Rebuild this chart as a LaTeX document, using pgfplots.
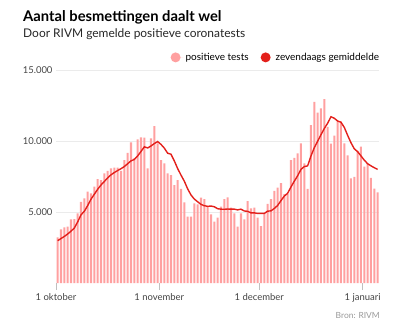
\documentclass[border=0pt]{standalone}
\usepackage{pgfplots}
\pgfplotsset{compat=1.18}
\usepackage{pgfplotstable}
\usepackage{fontspec}
\setmainfont{Lato}
\definecolor{barpink}{HTML}{FFA0A0}
\definecolor{linered}{HTML}{E3201B}
\definecolor{tickgray}{HTML}{444444}

\pgfplotstableread{
x y
0.5 3220
1.5 3780
2.5 3920
3.5 3970
4.5 4480
5.5 4500
6.5 4900
7.5 5720
8.5 5960
9.5 6430
10.5 6310
11.5 6780
12.5 7320
13.5 7250
14.5 7720
15.5 7900
16.5 8070
17.5 8120
18.5 8120
19.5 7900
20.5 8660
21.5 9170
22.5 9900
23.5 8800
24.5 10110
25.5 10260
26.5 10240
27.5 8070
28.5 10190
29.5 11050
30.5 9830
31.5 8660
32.5 8430
33.5 7720
34.5 7600
35.5 6900
36.5 7250
37.5 6620
38.5 5680
39.5 4670
40.5 4670
41.5 5610
42.5 5540
43.5 6010
44.5 5910
45.5 5370
46.5 4840
47.5 4320
48.5 4600
49.5 5370
50.5 5910
51.5 6030
52.5 5300
53.5 4900
54.5 3970
55.5 4900
56.5 4480
57.5 5770
58.5 5260
59.5 5300
60.5 4600
61.5 4010
62.5 4900
63.5 5580
64.5 5910
65.5 6480
66.5 6710
67.5 7040
68.5 6250
69.5 6250
70.5 8660
71.5 8820
72.5 9130
73.5 9830
74.5 8430
75.5 6620
76.5 11120
77.5 12760
78.5 12000
79.5 12300
80.5 12950
81.5 11000
82.5 9810
83.5 10380
84.5 11400
85.5 11380
86.5 9830
87.5 8980
88.5 7370
89.5 7480
90.5 9300
91.5 9600
92.5 8190
93.5 8400
94.5 7400
95.5 6650
96.5 6380
}\daily

\pgfplotstableread{
x y
0.5 2980
1.5 3130
2.5 3280
3.5 3450
4.5 3650
5.5 3870
6.5 4300
7.5 4800
8.5 5050
9.5 5450
10.5 5900
11.5 6250
12.5 6600
13.5 6900
14.5 7150
15.5 7400
16.5 7620
17.5 7780
18.5 7920
19.5 8050
20.5 8200
21.5 8400
22.5 8600
23.5 8700
24.5 8950
25.5 9260
26.5 9590
27.5 9510
28.5 9650
29.5 9820
30.5 9960
31.5 9760
32.5 9500
33.5 9140
34.5 9070
35.5 8600
36.5 8060
37.5 7600
38.5 7170
39.5 6630
40.5 6200
41.5 5910
42.5 5720
43.5 5540
44.5 5440
45.5 5400
46.5 5420
47.5 5370
48.5 5230
49.5 5200
50.5 5190
51.5 5210
52.5 5200
53.5 5200
54.5 5150
55.5 5200
56.5 5070
57.5 5050
58.5 4940
59.5 4940
60.5 4900
61.5 4900
62.5 4900
63.5 5060
64.5 5080
65.5 5250
66.5 5460
67.5 5800
68.5 6120
69.5 6320
70.5 6760
71.5 7170
72.5 7550
73.5 8000
74.5 8200
75.5 8250
76.5 8940
77.5 9530
78.5 9980
79.5 10440
80.5 10880
81.5 11250
82.5 11710
83.5 11600
84.5 11410
85.5 11320
86.5 10960
87.5 10400
88.5 9880
89.5 9450
90.5 9250
91.5 8950
92.5 8650
93.5 8400
94.5 8250
95.5 8120
96.5 8000
}\avg

\begin{document}
\begin{tikzpicture}[x=1bp,y=1bp]
\path[use as bounding box] (0,0) rectangle (400,330);
\node[anchor=base west, inner sep=0pt, font=\fontsize{14.8}{16}\selectfont\bfseries] at (23,309) {Aantal besmettingen daalt wel};
\node[anchor=base west, inner sep=0pt, font=\fontsize{12}{14}\selectfont, text=black!85] at (23,293) {Door RIVM gemelde positieve coronatests};
\node[anchor=base east, inner sep=0pt, font=\fontsize{8.5}{10}\selectfont, text=black!40] at (380,12) {Bron: RIVM};
\begin{axis}[
  at={(56bp,47bp)}, anchor=south west, scale only axis,
  width=323.3bp, height=213bp,
  xmin=0, xmax=97, ymin=0, ymax=15000,
  scaled y ticks=false,
  axis line style={draw=none},
  xtick={0,31,61,92},
  xticklabels={1 oktober, 1 november, 1 december, 1 januari},
  ytick={5000,10000,15000},
  yticklabels={5.000,10.000,15.000},
  ymajorgrids, grid style={draw=black!8, line width=0.8bp},
  xtick style={draw=black!25, line width=0.8bp},
  ytick style={draw=none},
  tick align=outside, major tick length=7bp,
  xtick pos=bottom, ytick pos=left,
  ticklabel style={font=\fontsize{9.5}{11}\selectfont, text=tickgray},
  yticklabel style={xshift=7bp},
  legend columns=2,
  legend style={draw=none, fill=none, at={(axis description cs:1,1)}, anchor=south east,
    yshift=6bp, xshift=2bp, font=\fontsize{10}{12}\selectfont, inner sep=0pt,
    /tikz/every even column/.append style={column sep=10bp}},
]
\addplot[ybar, bar width=0.62, fill=barpink, draw=none,
  legend image code/.code={\fill[barpink] (0bp,0bp) circle (5bp); \path[draw=none] (-5bp,0bp) -- (8bp,0bp);}] table {\daily};
\addlegendentry{positieve tests}
\addplot[linered, line width=1.4bp, no marks,
  legend image code/.code={\fill[linered, draw=none] (0bp,0bp) circle (5bp); \path[draw=none] (-5bp,0bp) -- (8bp,0bp);}] table {\avg};
\addlegendentry{zevendaags gemiddelde}
\end{axis}
\end{tikzpicture}
\end{document}
